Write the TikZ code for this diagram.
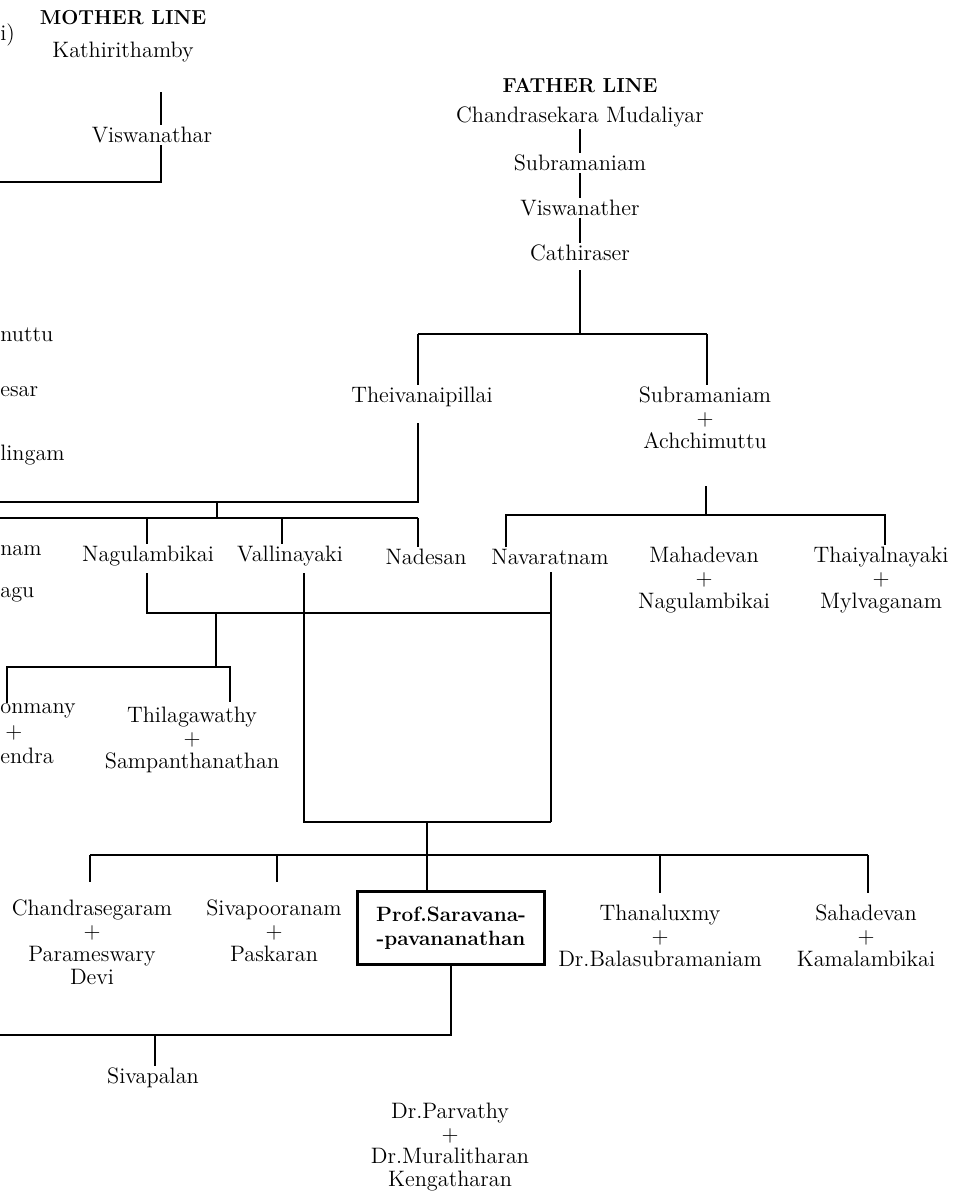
\documentclass[tikz,border=0pt]{standalone}
\usetikzlibrary{positioning,calc}
\tikzset
{
	person/.style = {align=center, inner sep=1pt, font=\fontsize{12.7}{13}\selectfont},
	headline/.style = {align=center, inner sep=1pt, font=\fontsize{11.5}{13}\selectfont\bfseries},
	selfnode/.style = {draw=black, line width=1.4pt, align=center, inner sep=2pt, minimum width=3.74cm, minimum height=1.46cm, font=\fontsize{11.8}{13.5}\selectfont\bfseries},
	cutname/.style = {anchor=west, inner sep=0pt, font=\fontsize{12.7}{13}\selectfont},
	link/.style = {draw=black, line width=1.2pt}
}

\begin{document}
\begin{tikzpicture}[x=0.02cm, y=-0.02cm]
	\useasboundingbox (0,0) rectangle (960,1192);

	\node[cutname] (ifrag) at (0,35) {i)};
	\node[headline] (motherhead) at (123,18) {MOTHER LINE};
	\node[person] (kathiri) at (123,52) {Kathirithamby};
	\node[person] (viswanathar) at (152,135) {Viswanathar};
	\coordinate (mcut) at (0,182);
	\draw[link, shorten >=16pt] ([xshift=5pt]viswanathar.north) -- ([xshift=5pt]viswanathar.north |- kathiri.south);
	\draw[link] ([xshift=5pt]viswanathar.south) |- (mcut);

	\node[headline] (fatherhead) at (580,86) {FATHER LINE};
	\node[person] (chandramud) at (580,117) {Chandrasekara Mudaliyar};
	\node[person] (subra1) at (580,163) {Subramaniam};
	\node[person] (viswanather) at (580,208) {Viswanather};
	\node[person] (cathiraser) at (580,253) {Cathiraser};
	\draw[link] (chandramud) -- (subra1);
	\draw[link] (subra1) -- (viswanather);
	\draw[link] (viswanather) -- (cathiraser);

	\coordinate (fjoin) at (580,334);
	\coordinate (fbusL) at (418,334);
	\coordinate (fbusR) at (707,334);
	\draw[link, shorten <=4pt] (cathiraser.south) -- (fjoin);
	\draw[link] (fbusL) -- (fbusR);

	\node[person] (theivanai) at (422,397) {Theivanaipillai};
	\node[person] (subra2) at (705,418) {Subramaniam\\+\\Achchimuttu};
	\draw[link] (fbusL) -- (fbusL |- theivanai.north);
	\draw[link] (fbusR) -- (fbusR |- subra2.north);

	\node[cutname] (frag1) at (0,335) {nuttu};
	\node[cutname] (frag2) at (0,392) {esar};
	\node[cutname] (frag3) at (0,455) {lingam};
	\node[cutname] (frag4) at (0,551) {nam};
	\node[cutname] (frag5) at (0,595) {agu};

	\coordinate (tbus) at (418,502);
	\coordinate (tcut) at (0,502);
	\coordinate (mid1) at (217,502);
	\coordinate (mid2) at (217,518);
	\coordinate (cbusL) at (0,518);
	\coordinate (cbusR) at (418,518);
	\coordinate (ntick) at (147,518);
	\coordinate (vtick) at (282,518);
	\draw[link, shorten <=8pt] (tbus |- theivanai.south) -- (tbus) -- (tcut);
	\draw[link] (mid1) -- (mid2);
	\draw[link] (cbusL) -- (cbusR);

	\node[person] (nagul1) at (148,556) {Nagulambikai};
	\node[person] (valli) at (290,556) {Vallinayaki};
	\node[person] (nadesan) at (426,557) {Nadesan};
	\node[person] (navarat) at (550,557) {Navaratnam};
	\node[person] (mahadevan) at (704,580) {Mahadevan\\+\\Nagulambikai};
	\node[person] (thaiyal) at (881,580) {Thaiyalnayaki\\+\\Mylvaganam};
	\draw[link] (ntick) -- (ntick |- nagul1.north);
	\draw[link] (vtick) -- (vtick |- valli.north);
	\draw[link] (cbusR) -- (cbusR |- nadesan.north);

	\coordinate (sbus) at (706,515);
	\coordinate (sbL) at (506,515);
	\coordinate (sbR) at (885,515);
	\draw[link, shorten <=20pt] (sbus |- subra2.south) -- (sbus);
	\draw[link] (sbL |- navarat.north) -- (sbL) -- (sbR) -- (sbR |- thaiyal.north);

	\coordinate (nbus1) at (147,613);
	\coordinate (nmid) at (216,613);
	\coordinate (nbusR) at (551,613);
	\coordinate (vb) at (304,822);
	\coordinate (nvb) at (551,822);
	\coordinate (sjoin) at (427,822);
	\draw[link, shorten <=3pt] (nbus1 |- nagul1.south) -- (nbus1) -- (nbusR);
	\draw[link, shorten <=3pt] (vb |- valli.south) -- (vb) -- (nvb);
	\draw[link, shorten <=3pt] (nbusR |- navarat.south) -- (nvb);

	\coordinate (tilM) at (216,667);
	\coordinate (tilL) at (7,667);
	\coordinate (tilR) at (230,667);
	\node[cutname] (frag6) at (0,711) {onmany};
	\node[cutname] (frag7) at (5,733) {+};
	\node[cutname] (frag8) at (0,756) {endra};
	\node[person] (thilaga) at (192,740) {Thilagawathy\\+\\Sampanthanathan};
	\draw[link] (nmid) -- (tilM);
	\draw[link, shorten >=2pt] (tilL |- frag6.north) -- (tilL) -- (tilR) -- (tilR |- thilaga.north);

	\node[person] (chandrasg) at (92,942) {Chandrasegaram\\+\\Parameswary\\Devi};
	\node[person] (sivapoor) at (274,931) {Sivapooranam\\+\\Paskaran};
	\node[selfnode] (self) at (451,928) {Prof.Saravana-\\-pavananathan};
	\node[person] (thanal) at (660,936) {Thanaluxmy\\+\\Dr.Balasubramaniam};
	\node[person] (sahad) at (866,936) {Sahadevan\\+\\Kamalambikai};

	\coordinate (kL) at (90,855);
	\coordinate (k2) at (277,855);
	\coordinate (kM) at (427,855);
	\coordinate (k4) at (660,855);
	\coordinate (kR) at (868,855);
	\draw[link] (sjoin) -- (sjoin |- self.north);
	\draw[link] (kL) -- (kR);
	\draw[link, shorten >=9pt] (kL) -- (kL |- chandrasg.north);
	\draw[link, shorten >=9pt] (k2) -- (k2 |- sivapoor.north);
	\draw[link, shorten >=6pt] (k4) -- (k4 |- thanal.north);
	\draw[link, shorten >=6pt] (kR) -- (kR |- sahad.north);

	\node[person] (sivapalan) at (153,1078) {Sivapalan};
	\node[person] (parvathy) at (450,1147) {Dr.Parvathy\\+\\Dr.Muralitharan\\Kengatharan};
	\coordinate (pcut) at (0,1035);
	\coordinate (pchild) at (155,1035);
	\draw[link] (self.south) |- (pcut);
	\draw[link] (pchild) -- (pchild |- sivapalan.north);
\end{tikzpicture}
\end{document}
